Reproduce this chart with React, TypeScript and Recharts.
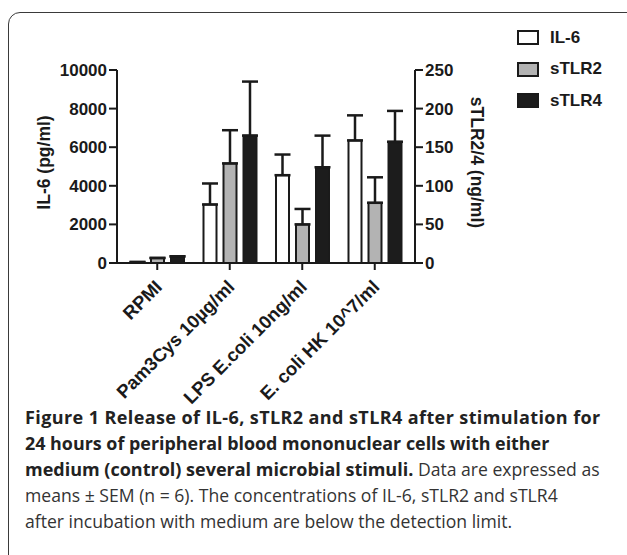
import React from 'react'
import { BarChart, Bar, XAxis, YAxis, ErrorBar, Legend } from 'recharts'

const categories = ['RPMI', 'Pam3Cys 10µg/ml', 'LPS E.coli 10ng/ml', 'E. coli HK 10^7/ml']
const il6 = [50, 3030, 4550, 6350]
const il6Sem = [0, 1090, 1070, 1300]
const stlr2 = [6.5, 129, 50, 78]
const stlr2Sem = [0, 43, 20, 33]
const stlr4 = [8.6, 165, 124, 157]
const stlr4Sem = [0, 70, 41, 40]
const leftTicks = [0, 2000, 4000, 6000, 8000, 10000]
const rightTicks = [0, 50, 100, 150, 200, 250]

const data = categories.map((name, i) => ({
  name,
  il6: il6[i],
  il6Err: [0, il6Sem[i]],
  stlr2: stlr2[i],
  stlr2Err: [0, stlr2Sem[i]],
  stlr4: stlr4[i],
  stlr4Err: [0, stlr4Sem[i]],
}))

const ink = '#1a1a1a'
const font = "'Liberation Sans', Arial, sans-serif"
const tickStyle = { fontFamily: font, fontWeight: 700, fontSize: 17, fill: ink }

const AngledTick = ({ x, y, payload }: any) => (
  <g transform={`translate(${x},${y})`}>
    <text x={6} y={16} transform="rotate(-45, 6, 16)" textAnchor="end" {...tickStyle} fontSize={18.5}>
      {payload.value}
    </text>
  </g>
)

const AxisTitle = ({ viewBox, value, dx, dy, angle }: any) => {
  const cx = viewBox.x + dx
  const cy = viewBox.y + viewBox.height / 2 + dy
  return (
    <text x={cx} y={cy} transform={`rotate(${angle}, ${cx}, ${cy})`} textAnchor="middle"
      dominantBaseline="central" fontFamily={font} fontWeight={700} fontSize={17.5} fill={ink}>
      {value}
    </text>
  )
}

const LegendBox = ({ payload }: any) => (
  <div style={{ fontFamily: font, fontWeight: 700, fontSize: 17, color: ink }}>
    {(payload || []).map((p: any) => (
      <div key={p.value} style={{ display: 'flex', alignItems: 'center', height: 31.5 }}>
        <div style={{ width: 18, height: 11, background: p.color, border: `2px solid ${ink}`, marginRight: 11 }} />
        <span>{p.value}</span>
      </div>
    ))}
  </div>
)

export default function App() {
  return (
    <div style={{ position: 'absolute', left: 0, top: 0, width: 627, height: 555, overflow: 'hidden', background: '#fff' }}>
      <div style={{ position: 'absolute', left: 8, top: 12, width: 660, height: 600, border: '1.5px solid #3a3a3a', borderRadius: 12 }} />
      <div style={{ position: 'absolute', left: 0, top: 0 }}>
        <BarChart width={627} height={420} data={data} barSize={13} barGap={7}
          margin={{ top: 70, left: 17, right: 112, bottom: 127 }}>
          <XAxis dataKey="name" interval={0} height={30} padding={{ left: 4, right: 4 }}
            tickSize={7} tickMargin={2} tick={<AngledTick />}
            axisLine={{ stroke: ink, strokeWidth: 2 }} tickLine={{ stroke: ink, strokeWidth: 2 }} />
          <YAxis yAxisId="left" width={100} domain={[0, 10000]} ticks={leftTicks} tickSize={8} tickMargin={2}
            tick={tickStyle} axisLine={{ stroke: ink, strokeWidth: 2 }} tickLine={{ stroke: ink, strokeWidth: 2 }}
            label={{ content: (p: any) => <AxisTitle {...p} value="IL-6 (pg/ml)" dx={27} dy={-4} angle={-90} /> }} />
          <YAxis yAxisId="right" orientation="right" width={100} domain={[0, 250]} ticks={rightTicks} tickSize={8}
            tickMargin={2} tick={tickStyle} axisLine={{ stroke: ink, strokeWidth: 2 }} tickLine={{ stroke: ink, strokeWidth: 2 }}
            label={{ content: (p: any) => <AxisTitle {...p} value="sTLR2/4 (ng/ml)" dx={62} dy={-4} angle={90} /> }} />
          <Legend layout="horizontal" verticalAlign="middle" align="center" content={<LegendBox />}
            wrapperStyle={{ position: 'absolute', left: 517, top: 22, width: 110, height: 100 }} />
          <Bar yAxisId="left" dataKey="il6" name="IL-6" fill="#ffffff" stroke={ink} strokeWidth={2} isAnimationActive={false}>
            <ErrorBar dataKey="il6Err" width={8} stroke={ink} strokeWidth={2.5} direction="y" />
          </Bar>
          <Bar yAxisId="right" dataKey="stlr2" name="sTLR2" fill="#b3b3b3" stroke={ink} strokeWidth={2} isAnimationActive={false}>
            <ErrorBar dataKey="stlr2Err" width={8} stroke={ink} strokeWidth={2.5} direction="y" />
          </Bar>
          <Bar yAxisId="right" dataKey="stlr4" name="sTLR4" fill="#1c1c1c" stroke={ink} strokeWidth={2} isAnimationActive={false}>
            <ErrorBar dataKey="stlr4Err" width={8} stroke={ink} strokeWidth={2.5} direction="y" />
          </Bar>
        </BarChart>
      </div>
      <div style={{ position: 'absolute', left: 25, top: 404, fontFamily: "'Open Sans', sans-serif", fontSize: 17.6,
        lineHeight: '26px', color: '#333', whiteSpace: 'nowrap' }}>
        <div style={{ fontWeight: 700, color: '#222', fontSize: 18, letterSpacing: 0.4 }}>Figure 1 Release of IL-6, sTLR2 and sTLR4 after stimulation for</div>
        <div style={{ fontWeight: 700, color: '#222', fontSize: 17.9 }}>24 hours of peripheral blood mononuclear cells with either</div>
        <div><b style={{ color: '#222', fontSize: 18 }}>medium (control) several microbial stimuli.</b> Data are expressed as</div>
        <div>means ± SEM (n = 6). The concentrations of IL-6, sTLR2 and sTLR4</div>
        <div>after incubation with medium are below the detection limit.</div>
      </div>
    </div>
  )
}
